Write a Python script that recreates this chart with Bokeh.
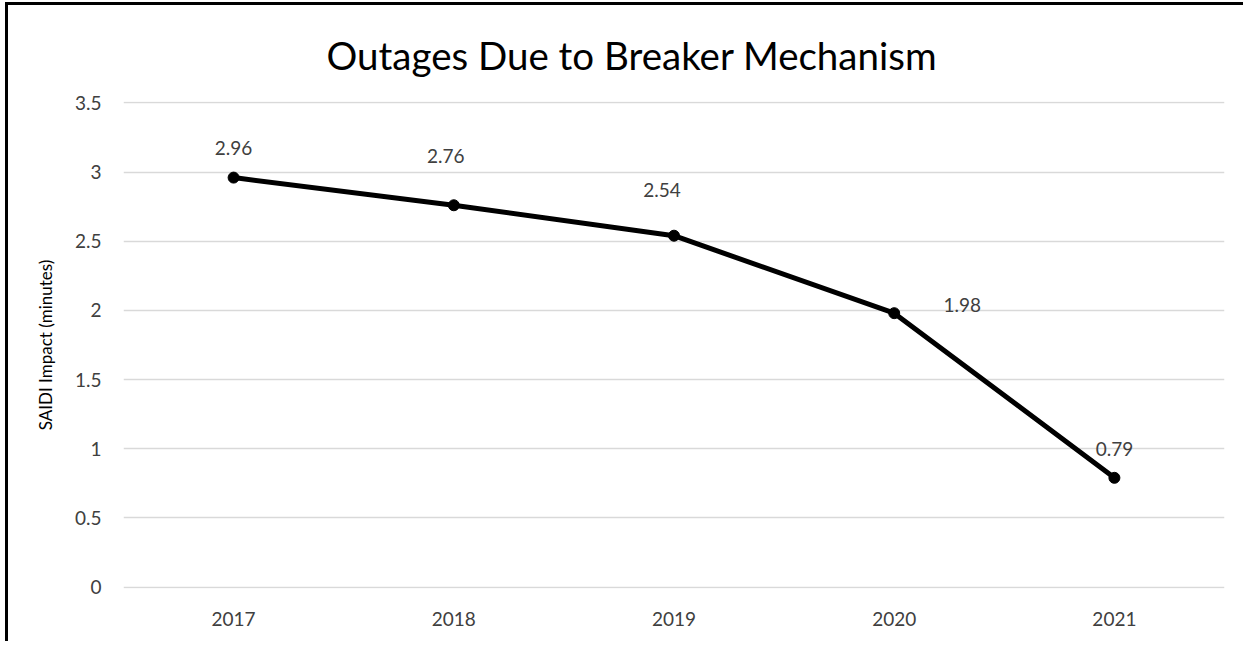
from bokeh.plotting import figure
from bokeh.models import ColumnDataSource, LabelSet, Range1d, FixedTicker, Title
from bokeh.core.properties import value
from bokeh.embed import file_html
from bokeh.resources import INLINE

# ---- data ----
years = ["2017", "2018", "2019", "2020", "2021"]
saidi = [2.96, 2.76, 2.54, 1.98, 0.79]
labels = ["2.96", "2.76", "2.54", "1.98", "0.79"]
y_ticks = [0, 0.5, 1, 1.5, 2, 2.5, 3, 3.5]
chart_title = "Outages Due to Breaker Mechanism"

# label placement (styling, pixels)
lab_dx = [0, -8, -12, 68, 0]
lab_dy = [30, 49, 46, 8, 29]

FONT = "Lato"
TXT = "#404040"

src = ColumnDataSource(dict(x=years, y=saidi, lab=labels, dx=lab_dx, dy=lab_dy))

p = figure(
    x_range=years,
    y_range=Range1d(-0.01, 3.51),
    width=1238, height=639,
    output_backend="svg",
    toolbar_location=None,
    min_border_left=115, min_border_right=22,
    min_border_top=96, min_border_bottom=56,
    styles={"border-left": "3px solid black", "border-top": "3px solid black",
            "margin-left": "5px", "margin-top": "2px"},
)
p.x_range.range_padding = 0

p.outline_line_color = None
p.background_fill_color = "white"
p.border_fill_color = "white"

title = Title(text=chart_title, align="left", vertical_align="top",
              text_font=FONT, text_font_size="38.5px", text_font_style="normal",
              text_color="black", offset=203, standoff=44)
p.add_layout(title, "above")

p.xgrid.grid_line_color = None
p.ygrid.grid_line_color = "#d9d9d9"
p.ygrid.grid_line_width = 1.5
p.yaxis.ticker = FixedTicker(ticks=y_ticks)

for ax in (p.xaxis[0], p.yaxis[0]):
    ax.axis_line_color = None
    ax.major_tick_line_color = None
    ax.minor_tick_line_color = None
    ax.major_label_text_font = FONT
    ax.major_label_text_font_size = "19px"
    ax.major_label_text_color = TXT

p.yaxis.major_label_standoff = 16
p.xaxis.major_label_standoff = 17
p.yaxis.axis_label = "SAIDI Impact (minutes)"
p.yaxis.axis_label_text_font = FONT
p.yaxis.axis_label_text_font_size = "17px"
p.yaxis.axis_label_text_font_style = "normal"
p.yaxis.axis_label_text_color = "black"
p.yaxis.axis_label_standoff = 16

p.line("x", "y", source=src, line_color="black", line_width=5)
p.scatter("x", "y", source=src, size=11, fill_color="black", line_color="black")

ls = LabelSet(x="x", y="y", text="lab", source=src, x_offset="dx", y_offset="dy",
              text_align="center", text_baseline="middle",
              text_font=value(FONT), text_font_size=value("19px"), text_color=TXT)
p.add_layout(ls)

open("out.html", "w").write(file_html(p, INLINE))
